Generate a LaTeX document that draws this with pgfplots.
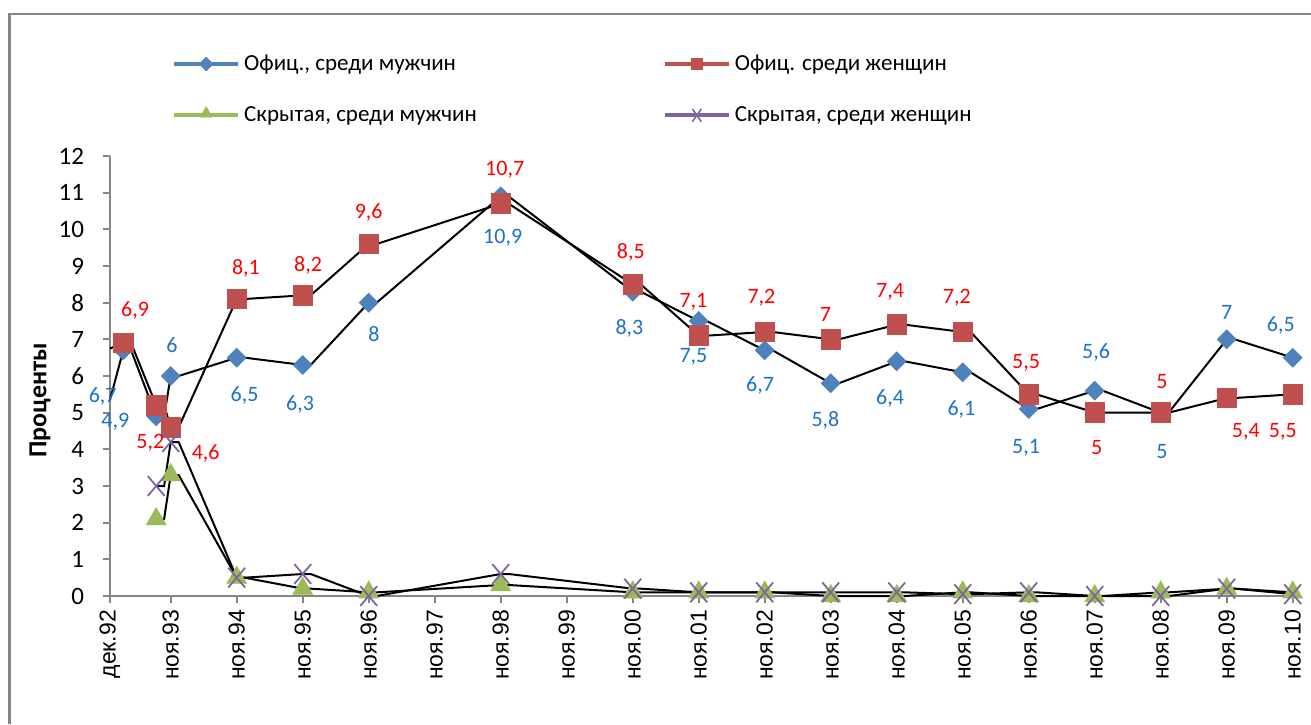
\documentclass[border=0pt]{standalone}
\usepackage{fontspec}
\setmainfont{Carlito}
\newfontfamily\arialf{Liberation Sans}
\usepackage{pgfplots}
\usepackage{pgfplotstable}
\pgfplotsset{compat=1.18}

\definecolor{cblue}{HTML}{4F81BD}
\definecolor{cred}{HTML}{C0504D}
\definecolor{cgreen}{HTML}{9BBB59}
\definecolor{cpurple}{HTML}{8064A2}
\definecolor{lblue}{HTML}{1C72CC}
\definecolor{lred}{HTML}{FF0000}
\definecolor{axgray}{HTML}{868686}

% x: years after dec.92 (nov.YY at k+0.92)
\pgfplotstableread{
x     m     w     hm    hw
0.2   6.7   6.9   nan   nan
0.7   4.9   5.2   2.1   3.0
0.92  6.0   4.6   3.3   4.2
1.92  6.5   8.1   0.5   0.5
2.92  6.3   8.2   0.2   0.6
3.92  8.0   9.6   0.1   0.0
5.92  10.9  10.7  0.3   0.6
7.92  8.3   8.5   0.1   0.2
8.92  7.5   7.1   0.1   0.1
9.92  6.7   7.2   0.1   0.1
10.92 5.8   7.0   0.0   0.1
11.92 6.4   7.4   0.0   0.1
12.92 6.1   7.2   0.1   0.05
13.92 5.1   5.5   0.0   0.1
14.92 5.6   5.0   0.0   0.0
15.92 5.0   5.0   0.1   0.0
16.92 7.0   5.4   0.2   0.2
17.92 6.5   5.5   0.1   0.05
}\data

% label positions
\pgfplotstableread{
x     y     t
-0.11 5.43  6,7
0.08  4.75  4,9
0.94  6.84  6
2.04  5.48  6,5
2.88  5.21  6,3
4.00  7.14  8
5.95  9.76  10,9
7.87  7.31  8,3
8.84  6.52  7,5
9.85  5.73  6,7
10.84 4.80  5,8
11.82 5.40  6,4
12.90 5.10  6,1
13.88 4.04  5,1
14.94 6.65  5,6
15.94 3.95  5
16.92 7.74  7
17.74 7.39  6,5
}\lblm

\pgfplotstableread{
x     y     t
0.38  7.80  6,9
0.61  4.17  5,2
1.45  3.90  4,6
2.06  8.94  8,1
3.00  9.03  8,2
3.92  10.47 9,6
5.98  11.62 10,7
7.89  9.38  8,5
8.84  8.02  7,1
9.87  8.13  7,2
10.84 7.69  7
11.82 8.29  7,4
12.83 8.13  7,2
13.88 6.35  5,5
14.95 4.06  5
15.94 5.86  5
17.21 4.47  5,4
17.77 4.47  5,5
}\lblw

\begin{document}
\begin{tikzpicture}
\path[use as bounding box] (0pt,0pt) rectangle (655.5pt,362pt);
\fill[white] (0pt,0pt) rectangle (655.5pt,362pt);
\draw[axgray, line width=1.2pt] (4.7pt,0pt) -- (4.7pt,355pt) -- (655.5pt,355pt);
\begin{axis}[
  at={(55pt,64pt)}, anchor=south west,
  scale only axis, width=594pt, height=220pt,
  xmin=0, xmax=18, ymin=0, ymax=12,
  clip=false,
  axis x line*=bottom, axis y line*=left,
  axis line style={axgray, line width=1pt, -},
  tick style={axgray, line width=1pt},
  tick align=outside, major tick length=3.5pt,
  ytick={0,1,...,12},
  xtick={0,0.92,1.92,2.92,3.92,4.92,5.92,6.92,7.92,8.92,9.92,10.92,11.92,12.92,13.92,14.92,15.92,16.92,17.92},
  xticklabels={дек.92,ноя.93,ноя.94,ноя.95,ноя.96,ноя.97,ноя.98,ноя.99,ноя.00,ноя.01,ноя.02,ноя.03,ноя.04,ноя.05,ноя.06,ноя.07,ноя.08,ноя.09,ноя.10},
  x tick label style={rotate=90, anchor=east, font=\arialf\fontsize{11.5}{12}\selectfont},
  y tick label style={font=\fontsize{12.5}{13}\selectfont, xshift=-6pt},
  /pgf/number format/assume math mode=true,
  ylabel={Проценты},
  ylabel style={at={(axis description cs:-0.0589,0.445)}, anchor=center, font=\bfseries\fontsize{13}{14}\selectfont},
  legend columns=2,
  legend cell align=left,
  legend style={at={(axis description cs:0.052,1.24)}, anchor=north west, draw=none, fill=none,
    inner sep=0pt, row sep=12.5pt, font=\fontsize{11.5}{12}\selectfont,
    /tikz/every even column/.append style={column sep=91pt}},
]
\addplot[only marks, mark=square*, mark size=3.3pt, mark options={rotate=45, fill=cblue, draw=cblue},
  legend image code/.code={\draw[line width=2pt, cblue] (0pt,0pt) -- (32pt,0pt);
    \draw[cblue, fill=cblue] plot[mark=square*, mark size=2.4pt, mark options={rotate=45}] coordinates {(16pt,0pt)};}]
  table[x=x, y=m] {\data};
\addlegendentry{Офиц., среди мужчин}
\addplot[only marks, mark=square*, mark size=4.9pt, mark options={fill=cred, draw=cred},
  legend image code/.code={\draw[line width=2pt, cred] (0pt,0pt) -- (32pt,0pt);
    \draw[cred, fill=cred] plot[mark=square*, mark size=2.6pt] coordinates {(16pt,0pt)};}]
  table[x=x, y=w] {\data};
\addlegendentry{Офиц. среди женщин}
\addplot[only marks, mark=triangle*, mark size=5.6pt, mark options={fill=cgreen, draw=cgreen},
  legend image code/.code={\draw[line width=2pt, cgreen] (0pt,0pt) -- (32pt,0pt);
    \draw[cgreen, fill=cgreen] plot[mark=triangle*, mark size=3.4pt] coordinates {(16pt,0.8pt)};}]
  table[x=x, y=hm] {\data};
\addlegendentry{Скрытая, среди мужчин}
\addplot[only marks, mark=x, mark size=7pt, mark options={draw=cpurple, line width=0.9pt, xscale=0.85},
  legend image code/.code={\draw[line width=2pt, cpurple] (0pt,0pt) -- (32pt,0pt);
    \draw[cpurple, line width=0.8pt] plot[mark=x, mark size=4.5pt, mark options={xscale=0.7}] coordinates {(16pt,0pt)};}]
  table[x=x, y=hw] {\data};
\addlegendentry{Скрытая, среди женщин}

% black lines drawn over the markers
\addplot[black, line width=1pt, mark=none, forget plot] coordinates {
(0,5.35)(0.2,6.7)(0.32,6.7)(0.7,4.9)(0.82,4.9)(0.92,6.0)(1.04,6.0)(1.92,6.5)(2.04,6.5)(2.92,6.3)(3.04,6.3)(3.92,8.0)(4.04,8.0)(5.92,10.9)(6.04,10.9)(7.92,8.3)(8.04,8.3)(8.92,7.5)(9.04,7.5)(9.92,6.7)(10.04,6.7)(10.92,5.8)(11.04,5.8)(11.92,6.4)(12.04,6.4)(12.92,6.1)(13.04,6.1)(13.92,5.1)(14.04,5.1)(14.92,5.6)(15.04,5.6)(15.92,5.0)(16.04,5.0)(16.92,7.0)(17.04,7.0)(17.92,6.5)(18.0,6.5)};
\addplot[black, line width=1pt, mark=none, forget plot] coordinates {
(0,6.75)(0.2,6.9)(0.32,6.9)(0.7,5.2)(0.82,5.2)(0.92,4.6)(1.04,4.6)(1.92,8.1)(2.04,8.1)(2.92,8.2)(3.04,8.2)(3.92,9.6)(4.04,9.6)(5.92,10.7)(6.04,10.7)(7.92,8.5)(8.04,8.5)(8.92,7.1)(9.04,7.1)(9.92,7.2)(10.04,7.2)(10.92,7.0)(11.04,7.0)(11.92,7.4)(12.04,7.4)(12.92,7.2)(13.04,7.2)(13.92,5.5)(14.04,5.5)(14.92,5.0)(15.04,5.0)(15.92,5.0)(16.04,5.0)(16.92,5.4)(17.04,5.4)(17.92,5.5)(18.0,5.5)};
\addplot[black, line width=1pt, mark=none, forget plot] coordinates {
(0.7,2.1)(0.82,2.1)(0.92,3.3)(1.04,3.3)(1.92,0.5)(2.04,0.5)(2.92,0.2)(3.04,0.2)(3.92,0.1)(4.04,0.1)(5.92,0.3)(6.04,0.3)(7.92,0.1)(8.04,0.1)(8.92,0.1)(9.04,0.1)(9.92,0.1)(10.04,0.1)(10.92,0)(11.04,0)(11.92,0)(12.04,0)(12.92,0.1)(13.04,0.1)(13.92,0)(14.04,0)(14.92,0)(15.04,0)(15.92,0.1)(16.04,0.1)(16.92,0.2)(17.04,0.2)(17.92,0.1)(18.0,0.1)};
\addplot[black, line width=1pt, mark=none, forget plot] coordinates {
(0.7,3.0)(0.82,3.0)(0.92,4.2)(1.04,4.2)(1.92,0.5)(2.04,0.5)(2.92,0.6)(3.04,0.6)(3.92,0)(4.04,0)(5.92,0.6)(6.04,0.6)(7.92,0.2)(8.04,0.2)(8.92,0.1)(9.04,0.1)(9.92,0.1)(10.04,0.1)(10.92,0.1)(11.04,0.1)(11.92,0.1)(12.04,0.1)(12.92,0.05)(13.04,0.05)(13.92,0.1)(14.04,0.1)(14.92,0)(15.04,0)(15.92,0)(16.04,0)(16.92,0.2)(17.04,0.2)(17.92,0.05)(18.0,0.05)};

% data labels
\addplot[draw=none, mark=none, forget plot, nodes near coords, point meta=explicit symbolic,
  every node near coord/.style={anchor=center, inner sep=0pt, text=lblue, font=\fontsize{11}{12}\selectfont}]
  table[x=x, y=y, meta=t] {\lblm};
\addplot[draw=none, mark=none, forget plot, nodes near coords, point meta=explicit symbolic,
  every node near coord/.style={anchor=center, inner sep=0pt, text=lred, font=\fontsize{11}{12}\selectfont}]
  table[x=x, y=y, meta=t] {\lblw};
\end{axis}
\end{tikzpicture}
\end{document}
